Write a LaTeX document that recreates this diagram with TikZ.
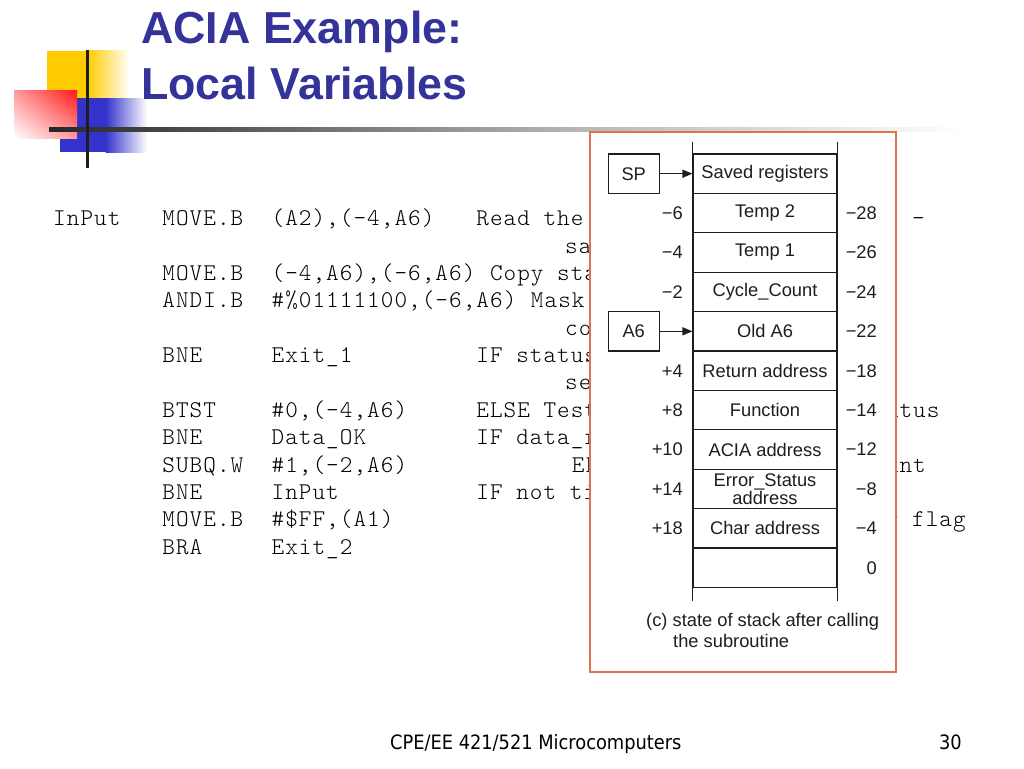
\documentclass[tikz,border=0pt]{standalone}
\usepackage{fontspec}
\setmainfont{Liberation Sans}
\newfontfamily\arialf{Liberation Sans}
\newfontfamily\monof{lmmonolt10-regular.otf}[LetterSpace=4.4]
\newfontfamily\footf{DejaVu Sans Condensed}
\usetikzlibrary{arrows.meta,shadings}
\definecolor{titleblue}{RGB}{51,51,153}
\definecolor{logoyellow}{RGB}{255,204,0}
\definecolor{logored}{RGB}{255,25,25}
\definecolor{logoblue}{RGB}{51,51,204}
\definecolor{boxorange}{RGB}{222,116,78}
\definecolor{ink}{RGB}{30,30,30}
\begin{document}
\begin{tikzpicture}[x=1pt,y=-1pt,
  titletxt/.style={font=\arialf\bfseries\fontsize{44.8}{50}\selectfont, text=titleblue, inner sep=0, anchor=base west},
  code/.style={font=\monof\fontsize{24}{27.4}\selectfont, text=black, inner sep=0, anchor=base west},
  cell/.style={draw=ink, line width=1.1pt, minimum width=144pt, minimum height=39.4pt, inner sep=0,
    font=\arialf\fontsize{18.3}{16}\selectfont, text=ink, align=center},
  ptrbox/.style={draw=ink, line width=1.1pt, minimum width=51pt, minimum height=39.4pt, inner sep=0,
    font=\arialf\fontsize{18.3}{20}\selectfont, text=ink},
  lab/.style={font=\arialf\fontsize{18.3}{20}\selectfont, text=ink, inner sep=0, anchor=east},
  captxt/.style={font=\arialf\fontsize{18.3}{20}\selectfont, text=ink, inner sep=0, anchor=base west},
  ptrarrow/.style={draw=ink, line width=1.1pt, -{Triangle[length=10pt,width=8pt]}},
  stackline/.style={draw=ink, line width=1.1pt},
  foottxt/.style={font=\footf\fontsize{19.8}{22}\selectfont, text=black, inner sep=0, anchor=base west}
]
\useasboundingbox (0,0) rectangle (1024,768);
\fill[white] (0,0) rectangle (1024,768);

% ---- logo
\fill[logoyellow] (47,51) rectangle (88,98);
\shade[left color=logoyellow, right color=white] (87.5,51) rectangle (130,98);
\fill[logoblue] (60,98) rectangle (106,152);
\shade[left color=logoblue, right color=white] (105.5,98) rectangle (147,152);
\shade[upper right=logored, upper left=logored!45, lower right=logored!45, lower left=white] (14,90) rectangle (77,138);
\shade[left color=black!85, right color=black!30] (49,127.3) rectangle (560,131.7);
\shade[left color=black!30, right color=white] (559.5,127.3) rectangle (965,131.7);
\draw[line width=3pt, ink] (87,50) -- (87,168);

% ---- title
\node[titletxt] (t1) at (141,44) {ACIA Example:};
\node[titletxt] (t2) at (141,99) {Local Variables};

% ---- code lines (columns: 53 + n*13.65)
\node[code] (a1) at (53,225.5) {InPut};
\node[code] (a2) at (162.2,225.5) {MOVE.B};
\node[code] (a3) at (271.4,225.5) {(A2),(-4,A6)};
\node[code] (a4) at (476.15,225.5) {Read the};
\node[code] (a5) at (885.65,225.5) {e -};
\node[code] (b1) at (565,253) {sa};
\node[code] (c1) at (162.2,280.5) {MOVE.B};
\node[code] (c2) at (271.4,280.5) {(-4,A6),(-6,A6)};
\node[code] (c3) at (489.8,280.5) {Copy sta};
\node[code] (d1) at (162.2,307.5) {ANDI.B};
\node[code] (d2) at (271.4,307.5) {\#\%01111100,(-6,A6)};
\node[code] (d3) at (530.75,307.5) {Mask};
\node[code] (e1) at (565,335.5) {co};
\node[code] (f1) at (162.2,362.5) {BNE};
\node[code] (f2) at (271.4,362.5) {Exit\_1};
\node[code] (f3) at (476.15,362.5) {IF status};
\node[code] (g1) at (565,389.5) {se};
\node[code] (h1) at (162.2,417.5) {BTST};
\node[code] (h2) at (271.4,417.5) {\#0,(-4,A6)};
\node[code] (h3) at (476.15,417.5) {ELSE Test};
\node[code] (h4) at (885.65,417.5) {atus};
\node[code] (i1) at (162.2,444.5) {BNE};
\node[code] (i2) at (271.4,444.5) {Data\_OK};
\node[code] (i3) at (476.15,444.5) {IF data\_r};
\node[code] (j1) at (162.2,472.5) {SUBQ.W};
\node[code] (j2) at (271.4,472.5) {\#1,(-2,A6)};
\node[code] (j3) at (571.7,472.5) {EL};
\node[code] (j4) at (885.65,472.5) {unt};
\node[code] (k1) at (162.2,499.5) {BNE};
\node[code] (k2) at (271.4,499.5) {InPut};
\node[code] (k3) at (476.15,499.5) {IF not ti};
\node[code] (l1) at (162.2,526.5) {MOVE.B};
\node[code] (l2) at (271.4,526.5) {\#\$FF,(A1)};
\node[code] (l3) at (885.65,526.5) {r flag};
\node[code] (m1) at (162.2,554.5) {BRA};
\node[code] (m2) at (271.4,554.5) {Exit\_2};

% ---- stack panel
\node[draw=boxorange, line width=1.6pt, fill=white, minimum width=306pt, minimum height=540pt,
  anchor=north west, inner sep=0] (panel) at (589,131) {};

\node[cell] (c0) at (765,173.7) {Saved registers};
\node[cell] (s1) at (765,213.1) {Temp 2};
\node[cell] (s2) at (765,252.5) {Temp 1};
\node[cell] (s3) at (765,291.9) {Cycle\_Count};
\node[cell] (s4) at (765,331.3) {Old A6};
\node[cell] (s5) at (765,370.7) {Return address};
\node[cell] (s6) at (765,410.1) {Function};
\node[cell] (s7) at (765,449.5) {ACIA address};
\node[cell] (s8) at (765,488.9) {Error\_Status\\address};
\node[cell] (s9) at (765,528.3) {Char address};
\node[cell] (s10) at (765,567.7) {};
\draw[stackline] (c0.north west) -- ++(0,-11);
\draw[stackline] (c0.north east) -- ++(0,-11);
\draw[stackline] (s10.south west) -- ++(0,13);
\draw[stackline] (s10.south east) -- ++(0,13);

\node[ptrbox] (sp) at (633.7,173.7) {SP};
\node[ptrbox] (a6) at (633.7,331.3) {A6};
\draw[ptrarrow] (sp) -- (c0);
\draw[ptrarrow] (a6) -- (s4);

\node[lab] (l1l) at (683,213.1) {−6};
\node[lab] (l2l) at (683,252.5) {−4};
\node[lab] (l3l) at (683,291.9) {−2};
\node[lab] (l5l) at (683,370.7) {+4};
\node[lab] (l6l) at (683,410.1) {+8};
\node[lab] (l7l) at (683,449.5) {+10};
\node[lab] (l8l) at (683,488.9) {+14};
\node[lab] (l9l) at (683,528.3) {+18};

\node[lab] (r1) at (877,213.1) {−28};
\node[lab] (r2) at (877,252.5) {−26};
\node[lab] (r3) at (877,291.9) {−24};
\node[lab] (r4) at (877,331.3) {−22};
\node[lab] (r5) at (877,370.7) {−18};
\node[lab] (r6) at (877,410.1) {−14};
\node[lab] (r7) at (877,449.5) {−12};
\node[lab] (r8) at (877,488.9) {−8};
\node[lab] (r9) at (877,528.3) {−4};
\node[lab] (r10) at (877,567.7) {0};

\node[captxt] (cap1) at (646,626.5) {(c) state of stack after calling};
\node[captxt] (cap2) at (673,647.5) {the subroutine};

% ---- footer
\node[foottxt] (foot) at (390,749.5) {CPE/EE 421/521 Microcomputers};
\node[foottxt, anchor=base east] (page) at (962,749.5) {30};
\end{tikzpicture}
\end{document}
